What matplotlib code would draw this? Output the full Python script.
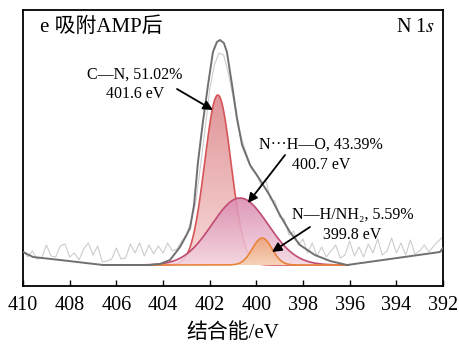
import numpy as np
import matplotlib
matplotlib.use("Agg")
import matplotlib.pyplot as plt
from matplotlib.colors import LinearSegmentedColormap

# ---------------- data ----------------
# raw spectrum, 0.2 eV steps from 410.0 to 392.0 eV (intensity, a.u.)
raw_counts = [15, 8, 14, 6, 7, 20, 9, 8, 19, 21, 8, 12, 5, 16, 22, 10, 19, 3, 4, 6,
              17, 6, 7, 21, 12, 22, 9, 20, 11, 19, 12, 22, 14,
              16, 24, 30, 44, 62, 98, 135, 175, 200, 212, 210, 192, 168, 140, 124, 110,
              96, 92, 80, 86, 66, 64, 48, 46, 30, 34, 20, 26, 12, 22, 9, 18, 8, 14,
              20, 7, 10, 24, 9, 18, 8, 21, 12, 26, 10, 14, 27, 12, 22, 10, 25, 11,
              14, 20, 13, 19, 24, 28]
raw_start, raw_stop = 410.0, 392.0

# fitted envelope (incl. background)
env_energy = [410.0, 409.57, 408.41, 406.57, 404.56, 404.13, 403.7, 403.27, 403.06,
              402.84, 402.67, 402.5, 402.29, 402.07, 401.86, 401.69, 401.56, 401.39,
              401.26, 401.04, 400.83, 400.61, 400.27, 399.84, 399.41, 398.99, 398.56,
              398.13, 397.49, 396.84, 396.11, 392.13, 392.0]
env_counts = [13, 8, 5, 0, 0, 1, 5, 18, 27, 37, 60, 103, 143, 180, 213, 223, 225, 222,
              213, 180, 147, 120, 100, 85, 69, 50, 33, 20, 10, 4, 0, 13, 17]

# fitted components
comp_names = ["C—N", "N\u00b7\u00b7\u00b7H—O", "N—H/NH\u2082"]
comp_share = ["51.02%", "43.39%", "5.59%"]
comp_center = [401.65, 400.7, 399.75]
comp_height = [170, 67, 27]
comp_fwhm = [1.32, 2.83, 0.99]
comp_label_e = ["401.6 eV", "400.7 eV", "399.8 eV"]

tick_values = [410, 408, 406, 404, 402, 400, 398, 396, 394, 392]

# ---------------- style ----------------
plt.rcParams['mathtext.fontset'] = 'stix'
serif = ['Liberation Serif', 'Noto Sans CJK SC']
plt.rcParams['font.family'] = serif

fig = plt.figure(figsize=(4.6, 3.45), dpi=100)
ax = fig.add_axes([0.05, 0.171, 0.913, 0.8])

edge_cols = ['#d65558', '#c04b72', '#e8843a']
top_cols = ['#e0959a', '#da8bb0', '#eea47a']
bot_cols = ['#f8d9d7', '#f4d6e1', '#f7d2b6']
alphas = [1.0, 0.88, 0.9]

xc = np.linspace(406.6, 396.05, 800)
for i in range(3):
    sig = comp_fwhm[i] / 2.3548
    yc = comp_height[i] * np.exp(-0.5 * ((xc - comp_center[i]) / sig) ** 2)
    poly = ax.fill_between(xc, 0, yc, facecolor='none', edgecolor='none')
    path = poly.get_paths()[0]
    grad = np.linspace(0, 1, 256).reshape(-1, 1)
    cmap = LinearSegmentedColormap.from_list('g%d' % i, [bot_cols[i], top_cols[i]])
    im = ax.imshow(grad, cmap=cmap, aspect='auto', origin='lower',
                   extent=[xc.min(), xc.max(), 0, comp_height[i]],
                   alpha=alphas[i], zorder=3 + i, interpolation='bilinear')
    im.set_clip_path(path, transform=ax.transData)
    ax.plot(xc, yc, color=edge_cols[i], lw=1.2, zorder=3.5 + i)

raw_e = np.linspace(raw_start, raw_stop, len(raw_counts))
ax.plot(raw_e, raw_counts, color='#cccccc', lw=0.8, zorder=2)
ax.plot(env_energy, env_counts, color='#707070', lw=1.4, zorder=7)

# annotations
txt_kw = dict(fontsize=11.5, ha='center', va='center', family=serif, zorder=10)
label_pos = [(405.2, 190, 171), (397.22, 120, 100), (395.88, 50, 30)]
arrows = [((401.86, 155), (403.4, 176)),
          ((400.36, 62), (398.77, 110)),
          ((399.33, 13), (397.7, 38))]
for i in range(3):
    ex, y1, y2 = label_pos[i]
    ax.text(ex, y1, "%s, %s" % (comp_names[i], comp_share[i]), **txt_kw)
    ax.text(ex, y2, comp_label_e[i], **txt_kw)
    head, tail = arrows[i]
    ax.annotate('', xy=head, xytext=tail, zorder=11,
                arrowprops=dict(arrowstyle='-|>', color='k', lw=1.3,
                                mutation_scale=14, shrinkA=0, shrinkB=0))

ax.text(409.27, 238, "e 吸附AMP后", fontsize=15, ha='left', va='center', family=serif)
ax.text(392.34, 238, "N 1$s$", fontsize=14.5, ha='right', va='center', family=serif)

ax.set_xlim(410, 392)
ax.set_ylim(-21, 255)
ax.set_xticks(tick_values)
ax.set_xticklabels([str(t) for t in tick_values])
ax.set_yticks([])
ax.tick_params(axis='x', direction='in', length=4, width=1, labelsize=14.5, pad=7)
for s in ax.spines.values():
    s.set_linewidth(1.3)
ax.set_xlabel("结合能/eV", fontsize=15, family=serif, labelpad=6)

fig.savefig("out.png", dpi=100)
